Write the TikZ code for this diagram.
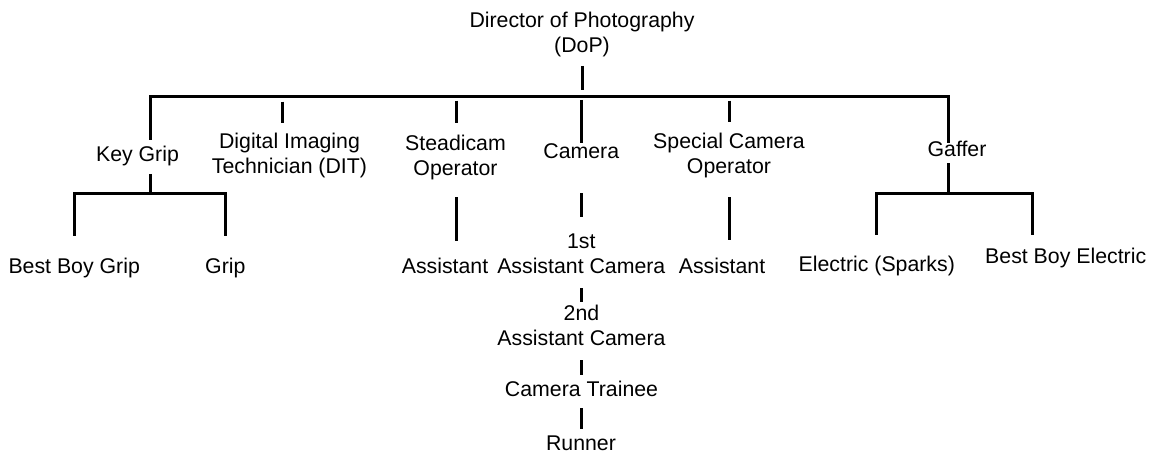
\documentclass[tikz,border=0pt]{standalone}
\usepackage{fontspec}
\setmainfont{Liberation Sans}
\begin{document}
\begin{tikzpicture}[x=1pt, y=-1pt]
  \tikzset{
    role/.style={inner sep=0pt, align=center, anchor=base,
                 font=\fontsize{21.3}{25}\selectfont},
    link/.style={line width=3pt},
  }
  \useasboundingbox (0,0) rectangle (1156,454);
  % Head of department (base = last line)
  \node[role] (dop) at (582,52.7) {Director of Photography\\(DoP)};
  % Second row
  \node[role] (keygrip)   at (137.5,161.7) {Key Grip};
  \node[role] (dit)       at (289.5,174)   {Digital Imaging\\Technician (DIT)};
  \node[role] (steadicam) at (455.5,176)   {Steadicam\\Operator};
  \node[role] (camera)    at (581.3,159)   {Camera};
  \node[role] (special)   at (729,173.3)   {Special Camera\\Operator};
  \node[role] (gaffer)    at (957,156.7)   {Gaffer};
  % Third row
  \node[role] (bbgrip)   at (74.2,273.3)  {Best Boy Grip};
  \node[role] (grip)     at (225.3,273.3) {Grip};
  \node[role] (stdast)   at (445,273.3)   {Assistant};
  \node[role] (ac1)      at (581.3,273.3) {1st\\Assistant Camera};
  \node[role] (spcast)   at (722,273.3)   {Assistant};
  \node[role] (electric) at (876.8,272)   {Electric (Sparks)};
  \node[role] (bbelec)   at (1065.7,263.3) {Best Boy Electric};
  % Camera chain
  \node[role] (ac2)     at (581.5,345)   {2nd\\Assistant Camera};
  \node[role] (trainee) at (581.5,396.7) {Camera Trainee};
  \node[role] (runner)  at (581,450)     {Runner};
  % Forks
  \coordinate (barW) at (150,96.5);
  \coordinate (barE) at (948,96.5);
  \coordinate (gripfork) at (150,193.3);
  \coordinate (gafferfork) at (948,193.3);
  % Lines
  \draw[link] (dop.base) ++(0,13.3) -- ++(0,24.5);
  \draw[link] (barW) ++(0,43.5) -- (barW) -- (barE) -- ++(0,46.8);
  \draw[link] (dit.base) ++(-7.2,-72.3) -- ++(0,21);
  \draw[link] (steadicam.base) ++(0.5,-75.3) -- ++(0,22);
  \draw[link] (camera.base) ++(0,-59) -- ++(0,42.7);
  \draw[link] (special.base) ++(0,-72.6) -- ++(0,21);
  \draw[link] (keygrip.base) ++(12.5,12.3) -- (gripfork);
  \draw[link] (bbgrip.base) ++(0,-37.3) -- (bbgrip |- gripfork) -- (grip |- gripfork) -- ++(0,42.7);
  \draw[link] (steadicam.base) ++(0.5,21.3) -- ++(0,43.7);
  \draw[link] (camera.base) ++(0,34.3) -- ++(0,23.4);
  \draw[link] (special.base) ++(0,24) -- ++(0,42.7);
  \draw[link] (gaffer.base) ++(-9,6.6) -- (gafferfork);
  \draw[link] (electric.base) ++(0,-37) -- (electric |- gafferfork) -- ++(155.7,0) -- ++(0,41.7);
  \draw[link] (ac1.base) ++(0,15) -- ++(0,13.4);
  \draw[link] (trainee.base) ++(0,-36.7) -- ++(0,15);
  \draw[link] (runner.base) ++(0,-41.7) -- ++(0,21);
\end{tikzpicture}
\end{document}
